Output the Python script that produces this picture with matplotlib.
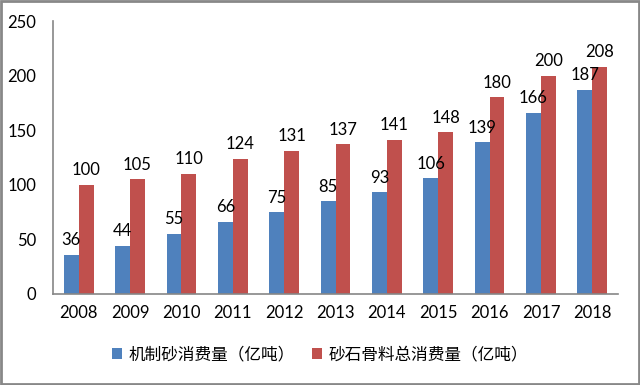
import numpy as np
import matplotlib.pyplot as plt
from matplotlib.patches import Rectangle

years = ['2008', '2009', '2010', '2011', '2012', '2013', '2014', '2015', '2016', '2017', '2018']
machine_sand = [36, 44, 55, 66, 75, 85, 93, 106, 139, 166, 187]
total_aggregate = [100, 105, 110, 124, 131, 137, 141, 148, 180, 200, 208]

plt.rcParams['font.family'] = ['Lato', 'Noto Sans CJK SC', 'DejaVu Sans']

fig = plt.figure(figsize=(6.4, 3.85), dpi=100)
ax = fig.add_axes([53 / 640, 1 - 294 / 385, 565 / 640, 273 / 385])

x = np.arange(len(years))
w = 0.29
b1 = ax.bar(x - w / 2, machine_sand, w, color='#4F81BD', label='机制砂消费量（亿吨）')
b2 = ax.bar(x + w / 2, total_aggregate, w, color='#C0504D', label='砂石骨料总消费量（亿吨）')

for bars, vals in ((b1, machine_sand), (b2, total_aggregate)):
    for r, v in zip(bars, vals):
        ax.text(r.get_x() + r.get_width() / 2, v + 6, str(v),
                ha='center', va='bottom', fontsize=12, color='black')

ax.set_xlim(-0.5, len(years) - 0.5)
ax.set_ylim(0, 250)
ax.set_yticks(range(0, 251, 50))
ax.set_xticks(x)
ax.set_xticklabels(years)
ax.tick_params(axis='both', length=0, labelsize=12, pad=8)
ax.tick_params(axis='y', pad=12)
for s in ('top', 'right'):
    ax.spines[s].set_visible(False)
for s in ('left', 'bottom'):
    ax.spines[s].set_color('#868686')
    ax.spines[s].set_linewidth(1.2)

fig.legend(loc='center', bbox_to_anchor=(0.5, 1 - 355 / 385), ncol=2, frameon=False,
           prop={'family': ['Noto Sans CJK SC', 'DejaVu Sans'], 'size': 12},
           handlelength=0.6, handleheight=0.6, handletextpad=0.4, columnspacing=1.0)

fig.patches.append(Rectangle((0.002, 0.003), 0.996, 0.994, transform=fig.transFigure,
                             fill=False, edgecolor='#888888', linewidth=2))

fig.savefig('out.png', dpi=100)
